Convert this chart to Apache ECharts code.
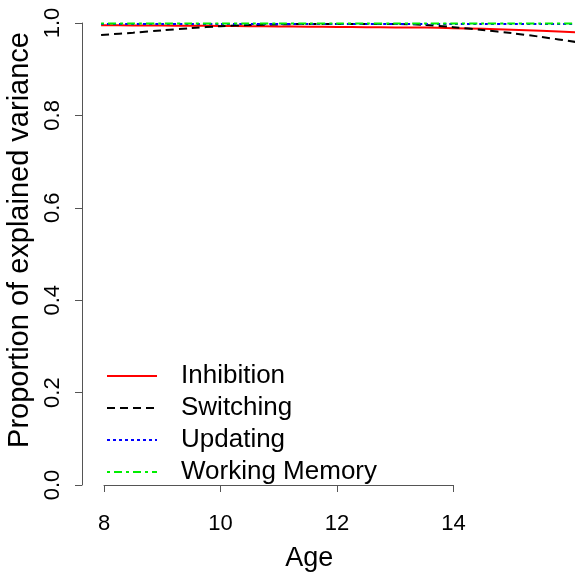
<!DOCTYPE html>
<html>
<head>
<meta charset="utf-8">
<script src="https://cdn.jsdelivr.net/npm/echarts@6/dist/echarts.min.js"></script>
<style>
  html, body { margin: 0; padding: 0; background: #fff; }
  #chart { width: 575px; height: 572px; }
</style>
</head>
<body>
<div id="chart"></div>
<script>
var dom = document.getElementById('chart');
var chart = echarts.init(dom, null, { renderer: 'canvas' });

var ages = [7.95, 8.5, 9, 9.5, 10, 10.5, 11, 11.5, 12, 12.5, 13, 13.5, 14, 14.5, 15, 15.5, 16.2];

// Proportion of explained variance per component
var inhibition = [0.995, 0.9948, 0.9945, 0.9941, 0.9936, 0.9931, 0.9926, 0.9921, 0.9915, 0.991, 0.9905, 0.99, 0.9888, 0.9873, 0.9853, 0.983, 0.9795];
var switching = [0.974, 0.979, 0.984, 0.989, 0.993, 0.9955, 0.997, 0.998, 0.998, 0.998, 0.998, 0.996, 0.991, 0.985, 0.978, 0.97, 0.957];
var updating = [0.998, 0.998, 0.998, 0.998, 0.998, 0.998, 0.998, 0.998, 0.998, 0.998, 0.998, 0.998, 0.998, 0.998, 0.998, 0.998, 0.998];
var workingMemory = [0.999, 0.999, 0.999, 0.999, 0.999, 0.999, 0.999, 0.999, 0.999, 0.999, 0.999, 0.999, 0.999, 0.999, 0.999, 0.999, 0.999];

var names = ['Inhibition', 'Switching', 'Updating', 'Working Memory'];
var colors = ['#ff0000', '#000000', '#0000ff', '#00ee00'];
var dashes = ['solid', [8, 5], [3, 3], [3, 4, 8, 4]];
var values = [inhibition, switching, updating, workingMemory];

var xTicks = [8, 10, 12, 14];
var yTicks = [0, 0.2, 0.4, 0.6, 0.8, 1.0];

// the curves run past the last tick, up to the right edge of the picture
var xDataMin = 7.6223, xDataMax = 16.0858;

var font = 'Liberation Sans, Arial, sans-serif';

function pairs(ys) {
    return ages.map(function (a, i) { return [a, ys[i]]; });
}

var option = {
    animation: false,
    backgroundColor: '#fff',
    textStyle: { fontFamily: font },
    grid: [
        // axes grid (R style: axis lines span only the tick range)
        { left: 104, top: 23, width: 349.5, height: 462, outerBoundsMode: 'none' },
        // data grid, full plotting width
        { left: 82, top: 23, right: 0, height: 462, outerBoundsMode: 'none' }
    ],
    legend: {
        data: names,
        orient: 'vertical',
        left: 106, top: 363,
        padding: 0,
        itemWidth: 50, itemHeight: 14, itemGap: 6,
        itemStyle: { opacity: 0 },
        textStyle: { fontSize: 26, color: '#000', lineHeight: 26, padding: [0, 0, 0, 19] }
    },
    xAxis: [{
        gridIndex: 0,
        type: 'value',
        min: xTicks[0], max: xTicks[xTicks.length - 1], interval: 2,
        offset: 18,
        axisLine: { show: true, lineStyle: { color: '#555', width: 1 } },
        axisTick: { show: true, length: 7, lineStyle: { color: '#555' } },
        axisLabel: { fontSize: 22, color: '#000', margin: 10 },
        splitLine: { show: false },
        name: 'Age',
        nameLocation: 'middle',
        nameGap: 42,
        nameTextStyle: { fontSize: 27, color: '#000', padding: [0, 0, 0, 61] }
    }, {
        gridIndex: 1,
        type: 'value',
        min: xDataMin, max: xDataMax,
        show: false
    }],
    yAxis: [{
        gridIndex: 0,
        type: 'value',
        min: yTicks[0], max: yTicks[yTicks.length - 1], interval: 0.2,
        offset: 22,
        axisLine: { show: true, lineStyle: { color: '#555', width: 1 } },
        axisTick: { show: true, length: 7, lineStyle: { color: '#555' } },
        axisLabel: {
            fontSize: 22, color: '#000', rotate: 90, margin: 18,
            formatter: function (v) { return v.toFixed(1); }
        },
        splitLine: { show: false },
        name: 'Proportion of explained variance',
        nameLocation: 'middle',
        nameRotate: 90,
        nameGap: 45,
        nameTextStyle: { fontSize: 29, color: '#000', padding: [0, 0, 0, 28] }
    }, {
        gridIndex: 1,
        type: 'value',
        min: yTicks[0], max: yTicks[yTicks.length - 1],
        show: false
    }],
    series: names.map(function (n, i) {
        return {
            name: n,
            type: 'line',
            xAxisIndex: 1,
            yAxisIndex: 1,
            data: pairs(values[i]),
            smooth: 0.3,
            symbol: 'none',
            showSymbol: false,
            clip: false,
            color: colors[i],
            lineStyle: { color: colors[i], width: 2, type: dashes[i] },
            z: 2 + i
        };
    })
};

chart.setOption(option);
window.addEventListener('resize', function () {
    chart.resize();
});
</script>
</body>
</html>
